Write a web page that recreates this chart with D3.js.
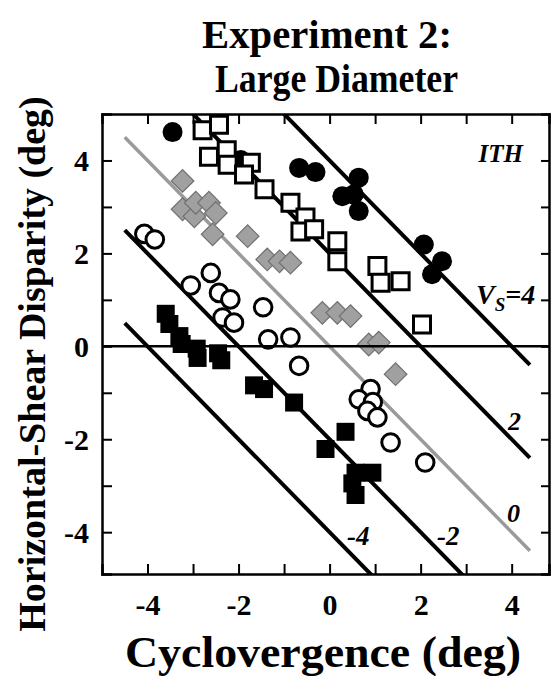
<!DOCTYPE html>
<html><head><meta charset="utf-8">
<script src="https://cdn.jsdelivr.net/npm/d3@7"></script>
<style>
html,body{margin:0;padding:0;background:#fff;}
svg text{font-family:"Liberation Serif","Times New Roman",serif;font-weight:bold;}
</style></head>
<body><div id="chart"></div>
<script>
// ---- data ----
const ithFilledCircles = [[-3.45,4.61],[-1.95,4.01],[-0.67,3.84],[-0.31,3.75],[0.64,3.63],[0.28,3.23],[0.53,3.27],[0.64,2.91],[2.07,2.19],[2.47,1.83],[2.25,1.55]];
const vs2OpenSquares = [[-2.79,4.65],[-2.43,4.77],[-2.65,4.08],[-2.26,4.22],[-2.24,3.91],[-1.73,3.95],[-1.88,3.70],[-1.43,3.38],[-0.86,3.09],[-0.53,2.77],[-0.64,2.47],[-0.34,2.52],[0.17,2.26],[0.17,1.83],[1.05,1.73],[1.12,1.37],[1.56,1.40],[2.03,0.47]];
const vs0GrayDiamonds = [[-3.23,3.56],[-3.23,2.95],[-2.97,2.8],[-2.94,3.09],[-2.65,3.09],[-2.5,2.87],[-2.57,2.41],[-1.8,2.37],[-1.37,1.87],[-1.1,1.83],[-0.86,1.8],[-0.16,0.72],[0.17,0.72],[0.46,0.65],[0.86,0.04],[1.08,0.08],[1.45,-0.6]];
const vsm2OpenCircles = [[-4.07,2.42],[-3.84,2.3],[-2.61,1.58],[-3.05,1.31],[-2.43,1.15],[-2.18,1.01],[-2.35,0.62],[-2.10,0.51],[-1.46,0.84],[-1.35,0.15],[-0.86,0.19],[-0.67,-0.42],[0.9,-0.92],[0.64,-1.14],[0.95,-1.2],[0.83,-1.39],[1.05,-1.53],[1.34,-2.07],[2.1,-2.5]];
const vsm4FilledSquares = [[-3.6,0.7],[-3.52,0.48],[-3.3,0.22],[-3.25,0.05],[-2.92,-0.05],[-2.9,-0.25],[-2.45,-0.15],[-2.38,-0.3],[-1.66,-0.84],[-1.44,-0.92],[-0.78,-1.21],[-0.09,-2.21],[0.35,-1.84],[0.57,-2.72],[0.94,-2.72],[0.5,-2.95],[0.57,-3.2]];
const isoLineValues = [4, 2, 0, -2, -4];
const isoLineLabels = ["V_S=4", "2", "0", "-2", "-4"];
const xTicks = [-4,-3,-2,-1,0,1,2,3,4];
const yTicks = [-4,-3,-2,-1,0,1,2,3,4];
const xDomain = [-5, 4.82];
const yDomain = [-4.9, 5];
const lineXRange = [-4.5, 4.4];

const W = 554, H = 676;
const L = 102, R = 549, T = 114, B = 574;
const svg = d3.select("#chart").append("svg").attr("width", W).attr("height", H);
const x = d3.scaleLinear().domain(xDomain).range([L, R]);
const y = d3.scaleLinear().domain(yDomain).range([B, T]);

svg.append("defs").append("clipPath").attr("id","clip")
  .append("rect").attr("x",L).attr("y",T).attr("width",R-L).attr("height",B-T);

const plot = svg.append("g").attr("clip-path","url(#clip)");

// iso lines y = V - x
const lineGen = d3.line().x(d=>x(d[0])).y(d=>y(d[1]));
isoLineValues.forEach(v=>{
  plot.append("path")
    .datum(lineXRange.map(xx=>[xx, v - xx]))
    .attr("d", lineGen)
    .attr("fill","none")
    .attr("stroke", v===0 ? "#9a9a9a" : "#000")
    .attr("stroke-width", v===0 ? 3.5 : 4);
});

// markers
const sym = (type,size)=>d3.symbol().type(type).size(size)();
plot.selectAll(".fc").data(ithFilledCircles).join("path")
  .attr("transform",d=>`translate(${x(d[0])},${y(d[1])})`)
  .attr("d", sym(d3.symbolCircle, Math.PI*10*10)).attr("fill","#000");
plot.selectAll(".os").data(vs2OpenSquares).join("path")
  .attr("transform",d=>`translate(${x(d[0])},${y(d[1])})`)
  .attr("d", sym(d3.symbolSquare, 17*17)).attr("fill","#fff").attr("stroke","#000").attr("stroke-width",3);
plot.selectAll(".gd").data(vs0GrayDiamonds).join("path")
  .attr("transform",d=>`translate(${x(d[0])},${y(d[1])}) rotate(45)`)
  .attr("d", sym(d3.symbolSquare, 16*16)).attr("fill","#a0a0a0").attr("stroke","#707070").attr("stroke-width",1.2);
plot.selectAll(".oc").data(vsm2OpenCircles).join("path")
  .attr("transform",d=>`translate(${x(d[0])},${y(d[1])})`)
  .attr("d", sym(d3.symbolCircle, Math.PI*8.8*8.8)).attr("fill","#fff").attr("stroke","#000").attr("stroke-width",3);
plot.selectAll(".fs").data(vsm4FilledSquares).join("path")
  .attr("transform",d=>`translate(${x(d[0])},${y(d[1])})`)
  .attr("d", sym(d3.symbolSquare, 18*18)).attr("fill","#000");

// zero line
plot.append("line").attr("x1",x(xDomain[0])).attr("x2",x(xDomain[1]))
  .attr("y1",y(0)).attr("y2",y(0)).attr("stroke","#000").attr("stroke-width",2.5);

// axes
const fmt = d => (d%2===0 ? String(d) : "");
const axB = svg.append("g").attr("transform",`translate(0,${B})`)
  .call(d3.axisBottom(x).tickValues(xTicks).tickSize(-10).tickPadding(20).tickFormat(fmt));
const axT = svg.append("g").attr("transform",`translate(0,${T})`)
  .call(d3.axisTop(x).tickValues(xTicks).tickSize(-10).tickFormat(""));
const axL = svg.append("g").attr("transform",`translate(${L},0)`)
  .call(d3.axisLeft(y).tickValues(yTicks).tickSize(-10).tickPadding(13).tickFormat(fmt));
const axR = svg.append("g").attr("transform",`translate(${R},0)`)
  .call(d3.axisRight(y).tickValues(yTicks).tickSize(-8).tickFormat(""));
[axB,axT,axL,axR].forEach(a=>{
  a.select(".domain").attr("stroke","#000").attr("stroke-width",2.5);
  a.selectAll(".tick line").attr("stroke","#000").attr("stroke-width",2);
  a.selectAll("text").attr("font-family",'"Liberation Serif","Times New Roman",serif')
   .attr("font-weight","bold").attr("font-size",30).attr("fill","#000");
});
axB.selectAll("text").attr("dy","0.71em");
axL.selectAll("text").attr("dy","0.34em");

// line labels
const lab = svg.append("g").attr("font-style","italic");
lab.append("text").attr("x",523).attr("y",162).attr("text-anchor","end")
  .attr("font-size",25).text("ITH");
const vs = lab.append("text").attr("x",476).attr("y",304).attr("font-size",28);
vs.append("tspan").text("V");
vs.append("tspan").attr("font-size",19).attr("dy",7).text("S");
vs.append("tspan").attr("dy",-7).text("=4");
lab.append("text").attr("x",508).attr("y",430).attr("font-size",26).attr("font-weight","normal").text(isoLineLabels[1]);
lab.append("text").attr("x",507).attr("y",522).attr("font-size",26).attr("font-weight","normal").text(isoLineLabels[2]);
lab.append("text").attr("x",437).attr("y",545).attr("font-size",27).text(isoLineLabels[3]);
lab.append("text").attr("x",347).attr("y",545).attr("font-size",27).text(isoLineLabels[4]);

// titles
svg.append("text").attr("x",202).attr("y",48).attr("font-size",41)
  .attr("textLength",250).attr("lengthAdjust","spacingAndGlyphs").text("Experiment 2:");
svg.append("text").attr("x",215).attr("y",92).attr("font-size",40)
  .attr("textLength",243).attr("lengthAdjust","spacingAndGlyphs").text("Large Diameter");
svg.append("text").attr("x",125).attr("y",667).attr("font-size",45)
  .attr("textLength",396).attr("lengthAdjust","spacingAndGlyphs").text("Cyclovergence (deg)");
svg.append("text").attr("transform","translate(45,364) rotate(-90)").attr("text-anchor","middle").attr("font-size",38).text("Horizontal-Shear Disparity (deg)");
</script></body></html>
